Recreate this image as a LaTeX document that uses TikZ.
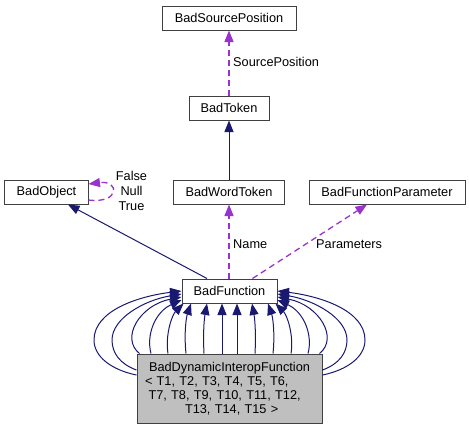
\documentclass[tikz,border=0pt]{standalone}
\usepackage{fontspec}
\setmainfont{Liberation Sans}
\usetikzlibrary{arrows.meta,calc}
\definecolor{edgeblue}{HTML}{191970}
\definecolor{edgepurple}{HTML}{9A32CD}
\definecolor{boxline}{HTML}{404040}
\definecolor{boxfill}{HTML}{BFBFBF}
\begin{document}
\begin{tikzpicture}[x=1bp,y=-1bp,
  font=\fontsize{12.8}{14}\selectfont,
  cls/.style={draw=boxline, line width=1bp, fill=white, inner sep=0pt, minimum height=24bp},
  lbl/.style={inner sep=0pt, anchor=west},
  inh/.style={draw=edgeblue, line width=1bp, -{Triangle[length=11.5bp,width=9bp]}},
  usage/.style={draw=edgepurple, line width=1.3bp, dash pattern=on 6bp off 4bp, -{Triangle[length=11.5bp,width=9bp]}}]
\useasboundingbox (0,0) rectangle (469,429);
% nodes
\node[cls, minimum width=134bp] (sp) at (229,18) {BadSourcePosition};
\node[cls, minimum width=80bp] (tok) at (229,108) {BadToken};
\node[cls, minimum width=111bp] (wt) at (229,192) {BadWordToken};
\node[cls, minimum width=156bp] (fp) at (387,192) {BadFunctionParameter};
\node[cls, minimum width=83bp] (obj) at (46.5,192) {BadObject};
\node[cls, minimum width=95bp] (fn) at (229.5,291) {BadFunction};
\node[cls, fill=boxfill, minimum width=185bp, minimum height=69bp, text width=169bp, align=left] (dyn) at (229.5,388.5)
  {\makebox[\linewidth]{BadDynamicInteropFunction}\\
   <~T1, T2, T3, T4, T5, T6,\\
   \hspace*{3.5bp}T7, T8, T9, T10, T11, T12,\\
   \makebox[\linewidth]{\ T13, T14, T15 >}};
% labels
\node[lbl] (lsp) at (233,62) {SourcePosition};
\node[lbl] (lname) at (233,244) {Name};
\node[lbl] (lpar) at (316,244) {Parameters};
\node[inner sep=0pt, align=center, font=\fontsize{12.8}{15}\selectfont] (lobj) at (131.5,191) {False\\Null\\True};
% usage edges
\draw[usage] (tok.north) -- (sp.south);
\draw[usage] ($(fn.north)+(-0.5,0)$) -- (wt.south);
\draw[usage] ($(fn.north)+(23,0)$) -- ($(fp.south)+(-20,0)$);
\draw[usage] ($(obj.east)+(0,8)$) .. controls (120,204) and (120,180) .. ($(obj.east)+(0,-8)$);
% inheritance edges
\draw[inh] (wt.north) -- (tok.south);
\draw[inh] ($(fn.north)+(-22.5,0)$) -- ($(obj.south)+(21.5,0)$);
% left arcs
\draw[inh] ($(dyn.west)+(0,-13.5)$) .. controls (112,370) and (94,357) .. (94,340) .. controls (94,310) and (140,296) .. (fn.west);
\draw[inh] ($(dyn.west)+(0,-18.5)$) .. controls (120,364) and (112,353) .. (112,340) .. controls (112,318) and (145,300) .. ($(fn.west)+(0,3)$);
\draw[inh] ($(dyn.north west)+(3,0)$) .. controls (120,338) and (140,305) .. ($(fn.west)+(0,6)$);
\draw[inh] ($(dyn.north)+(-78.5,0)$) .. controls (146,335) and (155,312) .. ($(fn.west)+(0,9)$);
\draw[inh] ($(dyn.north)+(-61.5,0)$) .. controls (165,335) and (172,315) .. ($(fn.south west)+(2,0)$);
\draw[inh] ($(dyn.north)+(-43.5,0)$) .. controls (184,335) and (186,318) .. ($(fn.south)+(-38.5,0)$);
\draw[inh] ($(dyn.north)+(-25.5,0)$) .. controls (203,335) and (204,320) .. ($(fn.south)+(-22.5,0)$);
\draw[inh] ($(dyn.north)+(-7.5,0)$) -- ($(fn.south)+(-7.5,0)$);
% right arcs
\draw[inh] ($(dyn.east)+(0,-13.5)$) .. controls (347,370) and (365,357) .. (365,340) .. controls (365,310) and (319,296) .. (fn.east);
\draw[inh] ($(dyn.east)+(0,-18.5)$) .. controls (339,364) and (347,353) .. (347,340) .. controls (347,318) and (314,300) .. ($(fn.east)+(0,3)$);
\draw[inh] ($(dyn.north east)+(-3,0)$) .. controls (339,338) and (319,305) .. ($(fn.east)+(0,6)$);
\draw[inh] ($(dyn.north)+(78.5,0)$) .. controls (313,335) and (304,312) .. ($(fn.east)+(0,9)$);
\draw[inh] ($(dyn.north)+(61.5,0)$) .. controls (294,335) and (287,315) .. ($(fn.south east)+(-2,0)$);
\draw[inh] ($(dyn.north)+(43.5,0)$) .. controls (275,335) and (273,318) .. ($(fn.south)+(38.5,0)$);
\draw[inh] ($(dyn.north)+(25.5,0)$) .. controls (256,335) and (255,320) .. ($(fn.south)+(22.5,0)$);
\draw[inh] ($(dyn.north)+(7.5,0)$) -- ($(fn.south)+(7.5,0)$);
\end{tikzpicture}
\end{document}
